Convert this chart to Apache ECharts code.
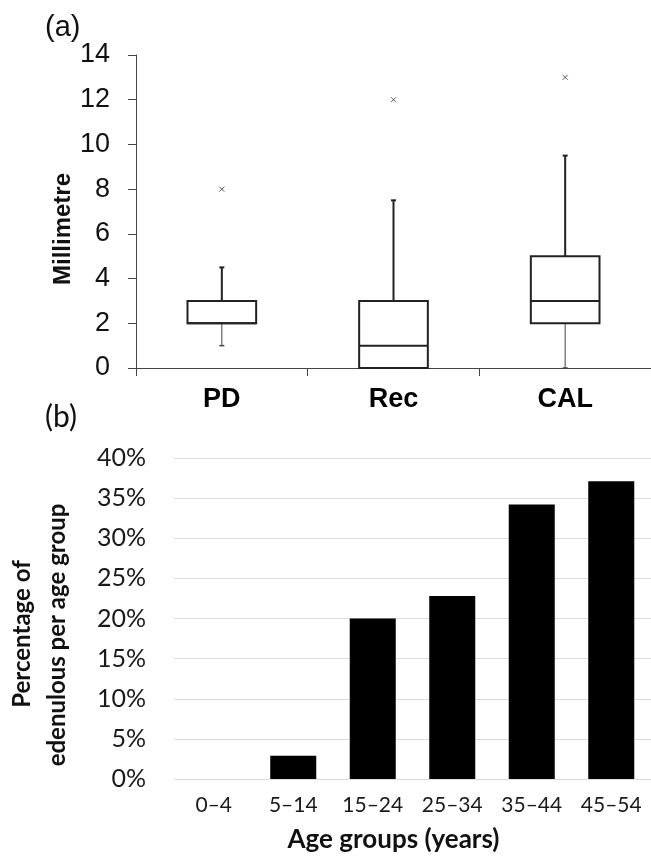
<!DOCTYPE html>
<html>
<head>
<meta charset="utf-8">
<script src="https://cdn.jsdelivr.net/npm/echarts@6/dist/echarts.min.js"></script>
<style>
html,body{margin:0;padding:0;background:#fff;}
#chart{width:651px;height:856px;}
</style>
</head>
<body>
<div id="chart"></div>
<script>
// Panel (a): box plots (millimetre)
const boxCategories = ['PD', 'Rec', 'CAL'];
const boxMin = [1, 0, 0];
const boxQ1 = [2, 0, 2];
const boxMedian = [2, 1, 3];
const boxQ3 = [3, 3, 5];
const boxMax = [4.5, 7.5, 9.5];
const boxOutliers = [8, 12, 13];

// Panel (b): percentage of edentulous per age group
const ageGroups = ['0–4', '5–14', '15–24', '25–34', '35–44', '45–54'];
const edentulousPct = [0, 2.9, 20, 22.8, 34.2, 37.1];

const arial = 'Liberation Sans, Arial, sans-serif';
const calib = 'Lato, Noto Sans, sans-serif';
const ink = '#222';

const boxData = boxCategories.map((c, i) => [i, boxMin[i], boxQ1[i], boxMedian[i], boxQ3[i], boxMax[i]]);
const outlierData = boxOutliers.map((v, i) => [i, v]);

function renderBox(params, api) {
  const i = api.value(0);
  const pMin = api.coord([i, api.value(1)]);
  const yQ1 = api.coord([i, api.value(2)])[1];
  const yMed = api.coord([i, api.value(3)])[1];
  const yQ3 = api.coord([i, api.value(4)])[1];
  const yMax = api.coord([i, api.value(5)])[1];
  const xc = pMin[0];
  const yMin = pMin[1];
  const w = api.size([1, 0])[0] * 0.4;
  const cap = 2.5;
  const children = [];
  // upper whisker
  children.push({type: 'line', shape: {x1: xc, y1: yQ3, x2: xc, y2: yMax}, style: {stroke: ink, lineWidth: 2}});
  children.push({type: 'line', shape: {x1: xc - cap, y1: yMax, x2: xc + cap, y2: yMax}, style: {stroke: ink, lineWidth: 2}});
  // lower whisker
  if (yMin !== yQ1) {
    children.push({type: 'line', shape: {x1: xc, y1: yQ1, x2: xc, y2: yMin}, style: {stroke: '#444', lineWidth: 1}});
    children.push({type: 'line', shape: {x1: xc - cap, y1: yMin, x2: xc + cap, y2: yMin}, style: {stroke: '#444', lineWidth: 1.5}});
  }
  // box
  children.push({type: 'rect', shape: {x: xc - w / 2, y: yQ3, width: w, height: yQ1 - yQ3}, style: {fill: '#fff', stroke: ink, lineWidth: 2}});
  // median
  children.push({type: 'line', shape: {x1: xc - w / 2, y1: yMed, x2: xc + w / 2, y2: yMed}, style: {stroke: ink, lineWidth: 2}});
  return {type: 'group', children: children};
}

const chart = echarts.init(document.getElementById('chart'), null, {renderer: 'canvas'});
chart.setOption({
  backgroundColor: '#fff',
  animation: false,
  grid: [
    {left: 136, top: 55, width: 516, height: 313, containLabel: false},
    {left: 174, top: 458, width: 481, height: 321, containLabel: false}
  ],
  xAxis: [
    {
      type: 'category', gridIndex: 0, data: boxCategories, boundaryGap: true,
      axisLine: {show: true, lineStyle: {color: '#444', width: 1}},
      axisTick: {show: true, inside: false, length: 8, alignWithLabel: false, lineStyle: {color: '#444'}},
      axisLabel: {color: '#000', fontFamily: arial, fontWeight: 'bold', fontSize: 27, margin: 18}
    },
    {
      type: 'category', gridIndex: 1, data: ageGroups, boundaryGap: true,
      axisLine: {show: false}, axisTick: {show: false},
      axisLabel: {color: '#1a1a1a', fontFamily: calib, fontSize: 21, margin: 16},
      name: 'Age groups (years)', nameLocation: 'middle', nameGap: 48,
      nameTextStyle: {color: '#111', fontFamily: calib, fontWeight: 'bold', fontSize: 26, padding: [0, 38, 0, 0]}
    }
  ],
  yAxis: [
    {
      type: 'value', gridIndex: 0, min: 0, max: 14, interval: 2,
      axisLine: {show: true, lineStyle: {color: '#444', width: 1}},
      axisTick: {show: true, inside: false, length: 8, lineStyle: {color: '#444'}},
      splitLine: {show: false},
      axisLabel: {color: '#111', fontFamily: arial, fontSize: 27, margin: 26}
    },
    {
      type: 'value', gridIndex: 1, min: 0, max: 40, interval: 5,
      axisLine: {show: false}, axisTick: {show: false},
      splitLine: {show: true, lineStyle: {color: '#dcdcdc', width: 1}},
      axisLabel: {color: '#1a1a1a', fontFamily: calib, fontSize: 25, margin: 28, formatter: '{value}%'}
    }
  ],
  graphic: [
    {type: 'text', left: 45, top: 13, style: {text: '(a)', font: '29px ' + arial, fill: '#111'}},
    {type: 'text', left: 45, top: 402, style: {text: '(b)', font: '30px ' + calib, fill: '#111'}},
    {type: 'text', x: 63, y: 229, rotation: Math.PI / 2,
      style: {text: 'Millimetre', font: 'bold 24px ' + arial, fill: '#111', align: 'center', verticalAlign: 'middle'}},
    {type: 'text', x: 22, y: 634, rotation: Math.PI / 2,
      style: {text: 'Percentage of', font: 'bold 24px ' + calib, fill: '#111', align: 'center', verticalAlign: 'middle'}},
    {type: 'text', x: 57, y: 635, rotation: Math.PI / 2,
      style: {text: 'edenulous per age group', font: 'bold 24px ' + calib, fill: '#111', align: 'center', verticalAlign: 'middle'}}
  ],
  series: [
    {
      type: 'custom', xAxisIndex: 0, yAxisIndex: 0, data: boxData,
      renderItem: renderBox, encode: {x: 0, y: [1, 2, 3, 4, 5]}, silent: true
    },
    {
      type: 'scatter', xAxisIndex: 0, yAxisIndex: 0, data: outlierData,
      symbol: 'path://M0,0L10,10M10,0L0,10', symbolSize: 5,
      itemStyle: {color: 'none', borderColor: '#333', borderWidth: 1}, silent: true
    },
    {
      type: 'bar', xAxisIndex: 1, yAxisIndex: 1, data: edentulousPct,
      barWidth: 46,
      itemStyle: {color: '#000', borderWidth: 0}, silent: true
    }
  ]
});
</script>
</body>
</html>
